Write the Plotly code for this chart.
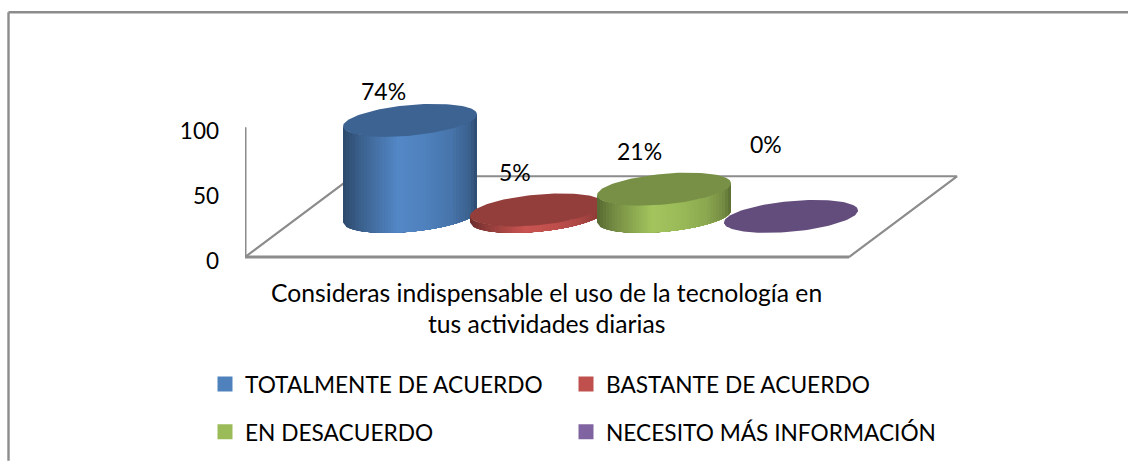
import numpy as np
import plotly.graph_objects as go

# --- data ---
series_names = ["TOTALMENTE DE ACUERDO", "BASTANTE DE ACUERDO", "EN DESACUERDO", "NECESITO MÁS INFORMACIÓN"]
series_values = [74, 5, 21, 0]
series_colors = ["#4f81bd", "#c0504d", "#9bbb59", "#8064a2"]
axis_ticks = [0, 50, 100]
axis_title_lines = ["Consideras indispensable el uso de la tecnología en", "tus actividades diarias"]

# --- figure geometry (pixels of the 1128x464 page) ---
W, H = 1128, 464
PLOT_L, PLOT_R, PLOT_T, PLOT_B = 245, 960, 95, 262.5
PX_X = 127.0   # pixels per category
PX_Y = 1.31    # pixels per value unit
X0_PX = 410.0  # pixel of the first category
FONT = "Lato"
FS_LABEL = 23
FS_TICK = 22.5
FS_TITLE = 24.7
FS_LEGEND = 22.7
GREY = "#8c8c8c"

def xd(px):
    return (px - X0_PX) / PX_X
def yd(py):
    return (PLOT_B - py) / PX_Y
def xp(px):
    return (px - PLOT_L) / (PLOT_R - PLOT_L)
def yp(py):
    return (PLOT_B - py) / (PLOT_B - PLOT_T)

DEPTH = yd(217.5)           # lift of the cylinder bases on the 3-D floor
RX = 67.0 / PX_X
RY = 15.5 / PX_Y
SHEAR = 0.09 * PX_X / PX_Y

def scale(c, f):
    r, g, b = [int(c[i:i + 2], 16) for i in (1, 3, 5)]
    return "rgb(%d,%d,%d)" % tuple(min(255, round(v * f)) for v in (r, g, b))

profile_at = [0, .12, .4, .6, .8, .93, 1]
profile_f = [.58, .75, 1.05, 1.0, .9, .75, .55]

fig = go.Figure()

def line(xs, ys, width):
    fig.add_trace(go.Scatter(x=xs, y=ys, mode="lines", line=dict(color=GREY, width=width),
                             showlegend=False, hoverinfo="skip", cliponaxis=False))

# floor and wall
FLOOR = yd(258.5)
line([xd(245), xd(849)], [FLOOR, FLOOR], 3)
line([xd(849), xd(957), xd(353), xd(245)], [FLOOR, yd(177), yd(177), FLOOR], 2.2)
line([xd(245), xd(245)], [FLOOR, yd(127.5)], 3)

def cylinder(i):
    v, c = series_values[i], series_colors[i]
    t = np.linspace(0, 2 * np.pi, 121)
    top = DEPTH + v
    if v > 0:
        edges = np.linspace(-1, 1, 46)[:-1]
        for e in edges:
            u = np.linspace(e, 1, 40)
            low = -RY * np.sqrt(np.clip(1 - u ** 2, 0, 1)) + SHEAR * RX * u
            xs = np.r_[i + RX * u, i + RX * u[::-1]]
            ys = np.r_[DEPTH + low, top + low[::-1]]
            f = np.interp((e + 1) / 2, profile_at, profile_f)
            fig.add_trace(go.Scatter(x=xs, y=ys, mode="lines", fill="toself", fillcolor=scale(c, f),
                                     line=dict(width=0), showlegend=False, hoverinfo="skip", cliponaxis=False))
    fig.add_trace(go.Scatter(x=i + RX * np.cos(t),
                             y=top + RY * np.sin(t) + SHEAR * RX * np.cos(t),
                             mode="lines", fill="toself", fillcolor=scale(c, .77), line=dict(width=0),
                             showlegend=False, hoverinfo="skip", cliponaxis=False))

for i in (0, 1, 3, 2):
    cylinder(i)

# legend entries: one small legend per entry, placed on a 2x2 grid
legend_ids = ["legend", "legend2", "legend3", "legend4"]
for n, c, lid in zip(series_names, series_colors, legend_ids):
    fig.add_trace(go.Scatter(x=[None], y=[None], mode="markers", name=n,
                             marker=dict(symbol="square", size=15, color=c), legend=lid))

# data labels, nudged from the top of their cylinder as in the reference
label_dx = [-27, -22, -25, -25]
label_dy = [-29, -38, -38.5, -72.5]
annotations = [dict(x=i, y=DEPTH + v, xref="x", yref="y", text=f"{v}%", showarrow=False,
                    xshift=label_dx[i], yshift=-label_dy[i], xanchor="center", yanchor="middle",
                    font=dict(family=FONT, size=FS_LABEL, color="#000000"))
               for i, v in enumerate(series_values)]
for text, py in zip(axis_title_lines, (294, 326)):
    annotations.append(dict(x=xp(546), y=yp(py), xref="paper", yref="paper", text=text, showarrow=False,
                            xanchor="center", yanchor="middle",
                            font=dict(family=FONT, size=FS_TITLE, color="#000000")))

legend_common = dict(orientation="v", xanchor="left", yanchor="middle", bgcolor="rgba(0,0,0,0)",
                     itemwidth=30, font=dict(family=FONT, size=FS_LEGEND, color="#000000"))
legend_cols = [205, 566]
legend_rows = [385, 433]

fig.update_layout(
    width=W, height=H, autosize=False,
    paper_bgcolor="#ffffff", plot_bgcolor="rgba(0,0,0,0)",
    margin=dict(l=PLOT_L, r=W - PLOT_R, t=PLOT_T, b=H - PLOT_B, pad=0),
    xaxis=dict(range=[xd(PLOT_L), xd(PLOT_R)], visible=False),
    yaxis=dict(range=[0, yd(PLOT_T)], tickvals=axis_ticks, showgrid=False, zeroline=False, showline=False,
               ticks="", ticklabelstandoff=25,
               tickfont=dict(family=FONT, size=FS_TICK, color="#000000")),
    annotations=annotations,
    legend=dict(x=xp(legend_cols[0]), y=yp(legend_rows[0]), **legend_common),
    legend2=dict(x=xp(legend_cols[1]), y=yp(legend_rows[0]), **legend_common),
    legend3=dict(x=xp(legend_cols[0]), y=yp(legend_rows[1]), **legend_common),
    legend4=dict(x=xp(legend_cols[1]), y=yp(legend_rows[1]), **legend_common),
    shapes=[
        dict(type="line", xref="paper", yref="paper", x0=xp(8.5), x1=xp(8.5), y0=yp(11.5), y1=yp(H),
             line=dict(color=GREY, width=2.4)),
        dict(type="line", xref="paper", yref="paper", x0=xp(8.5), x1=xp(W), y0=yp(11.5), y1=yp(11.5),
             line=dict(color=GREY, width=2.4)),
    ],
)
fig.write_html("out.html", config=dict(displayModeBar=False),
               post_script="document.body.style.margin='0';document.body.style.overflow='hidden';")
